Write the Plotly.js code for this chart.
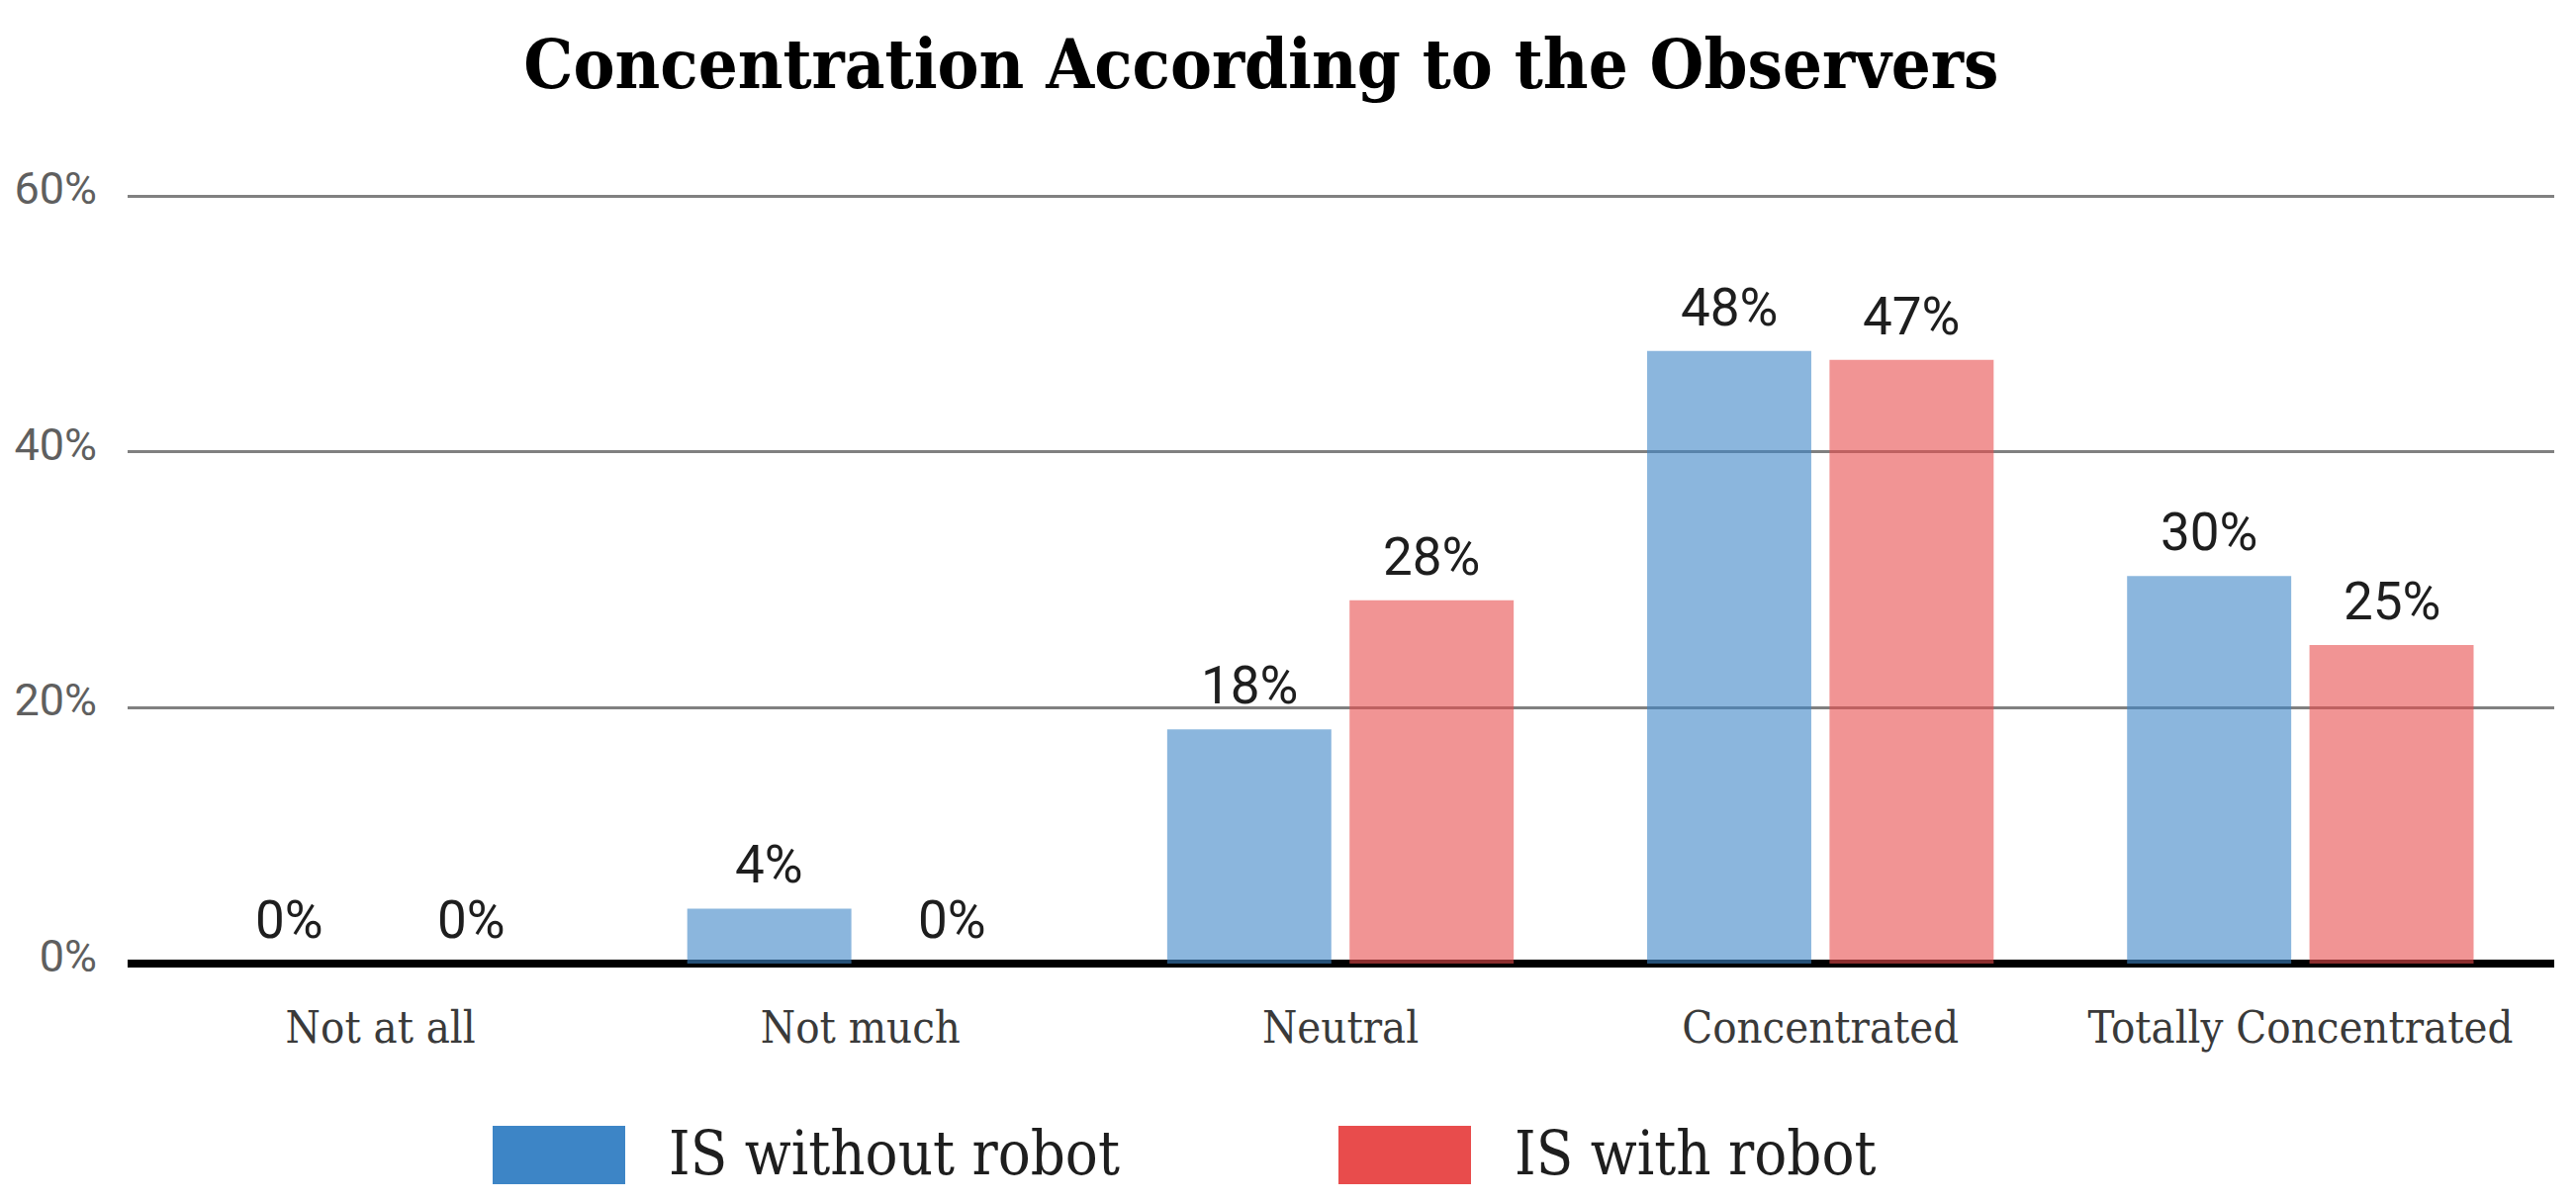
<!DOCTYPE html>
<html>
<head>
<meta charset="utf-8">
<script src="https://cdn.plot.ly/plotly-3.0.1.min.js"></script>
<style>
  html, body { margin: 0; padding: 0; background: #fff; }
  #chart { width: 2604px; height: 1215px; }
</style>
</head>
<body>
<div id="chart"></div>
<script>
// chart data
const categories = ['Not at all', 'Not much', 'Neutral', 'Concentrated', 'Totally Concentrated']
const seriesNames = ['IS without robot', 'IS with robot']
const withoutRobot = [0, 4.3, 18.3, 47.9, 30.3]
const withRobot = [0, 0, 28.4, 47.2, 24.9]
const yTicks = [0, 20, 40, 60]
const yTickText = ['0%', '20%', '40%', '60%']

const colors = ['#3d85c6', '#e84c4c']
const serif = 'DejaVu Serif Condensed, DejaVu Serif, serif'
const sans = 'Roboto, Liberation Sans, sans-serif'

// plot box in page pixels, used for the hand made legend
const W = 2604
const H = 1215
const M = { l: 129, r: 22, t: 193, b: 241 }
const plotW = W - M.l - M.r
const plotH = H - M.t - M.b
const px = x => (x - M.l) / plotW
const py = y => (H - M.b - y) / plotH

const bargap = 0.24
const slot = (1 - bargap) / 4

function barTrace (name, values, color) {
  return {
    type: 'bar',
    name: name,
    x: categories,
    y: values,
    marker: { color: color, opacity: 0.6 },
    showlegend: false,
    hoverinfo: 'name+y'
  }
}

const data = [
  barTrace(seriesNames[0], withoutRobot, colors[0]),
  barTrace(seriesNames[1], withRobot, colors[1])
]

// value labels above each bar
const annotations = []
;[withoutRobot, withRobot].forEach(function (vals, s) {
  vals.forEach(function (v, i) {
    annotations.push({
      x: i + (s === 0 ? -slot : slot),
      y: v,
      xref: 'x',
      yref: 'y',
      text: Math.round(v) + '%',
      showarrow: false,
      yanchor: 'bottom',
      yshift: 11,
      font: { family: sans, size: 53, color: '#1e1e1e' }
    })
  })
})

// legend: big swatches + labels
const legendX = [498, 1353]
const shapes = []
seriesNames.forEach(function (name, s) {
  shapes.push({
    type: 'rect',
    xref: 'paper',
    yref: 'paper',
    x0: px(legendX[s]),
    x1: px(legendX[s] + 134),
    y0: py(1138),
    y1: py(1197),
    fillcolor: colors[s],
    line: { width: 0 }
  })
  annotations.push({
    xref: 'paper',
    yref: 'paper',
    x: px(legendX[s] + 176),
    y: py(1165),
    xanchor: 'left',
    yanchor: 'middle',
    text: name,
    showarrow: false,
    font: { family: serif, size: 61, color: '#1e1e1e' }
  })
})

const layout = {
  width: W,
  height: H,
  margin: M,
  paper_bgcolor: '#fff',
  plot_bgcolor: '#fff',
  barmode: 'group',
  bargap: bargap,
  bargroupgap: 0.1,
  title: {
    text: '<b>Concentration According to the Observers</b>',
    font: { family: serif, size: 70, color: '#000' },
    xref: 'container',
    yref: 'container',
    x: 0.4896,
    y: 1 - 64 / H,
    xanchor: 'center',
    yanchor: 'middle'
  },
  xaxis: {
    type: 'category',
    range: [-0.527, 4.529],
    showgrid: false,
    showline: false,
    ticks: '',
    ticklabelstandoff: 34,
    tickfont: { family: serif, size: 45, color: '#3a3a3a' }
  },
  yaxis: {
    range: [0, 60.4],
    tickvals: yTicks,
    ticktext: yTickText,
    showgrid: true,
    gridcolor: '#808080',
    gridwidth: 3,
    zeroline: true,
    zerolinecolor: '#000',
    zerolinewidth: 8,
    showline: false,
    ticks: '',
    ticklabelstandoff: 30,
    ticklabelshift: -8,
    tickfont: { family: sans, size: 45, color: '#5f5f5f' }
  },
  annotations: annotations,
  shapes: shapes
}

Plotly.newPlot('chart', data, layout, { displayModeBar: false, staticPlot: true })
</script>
</body>
</html>
